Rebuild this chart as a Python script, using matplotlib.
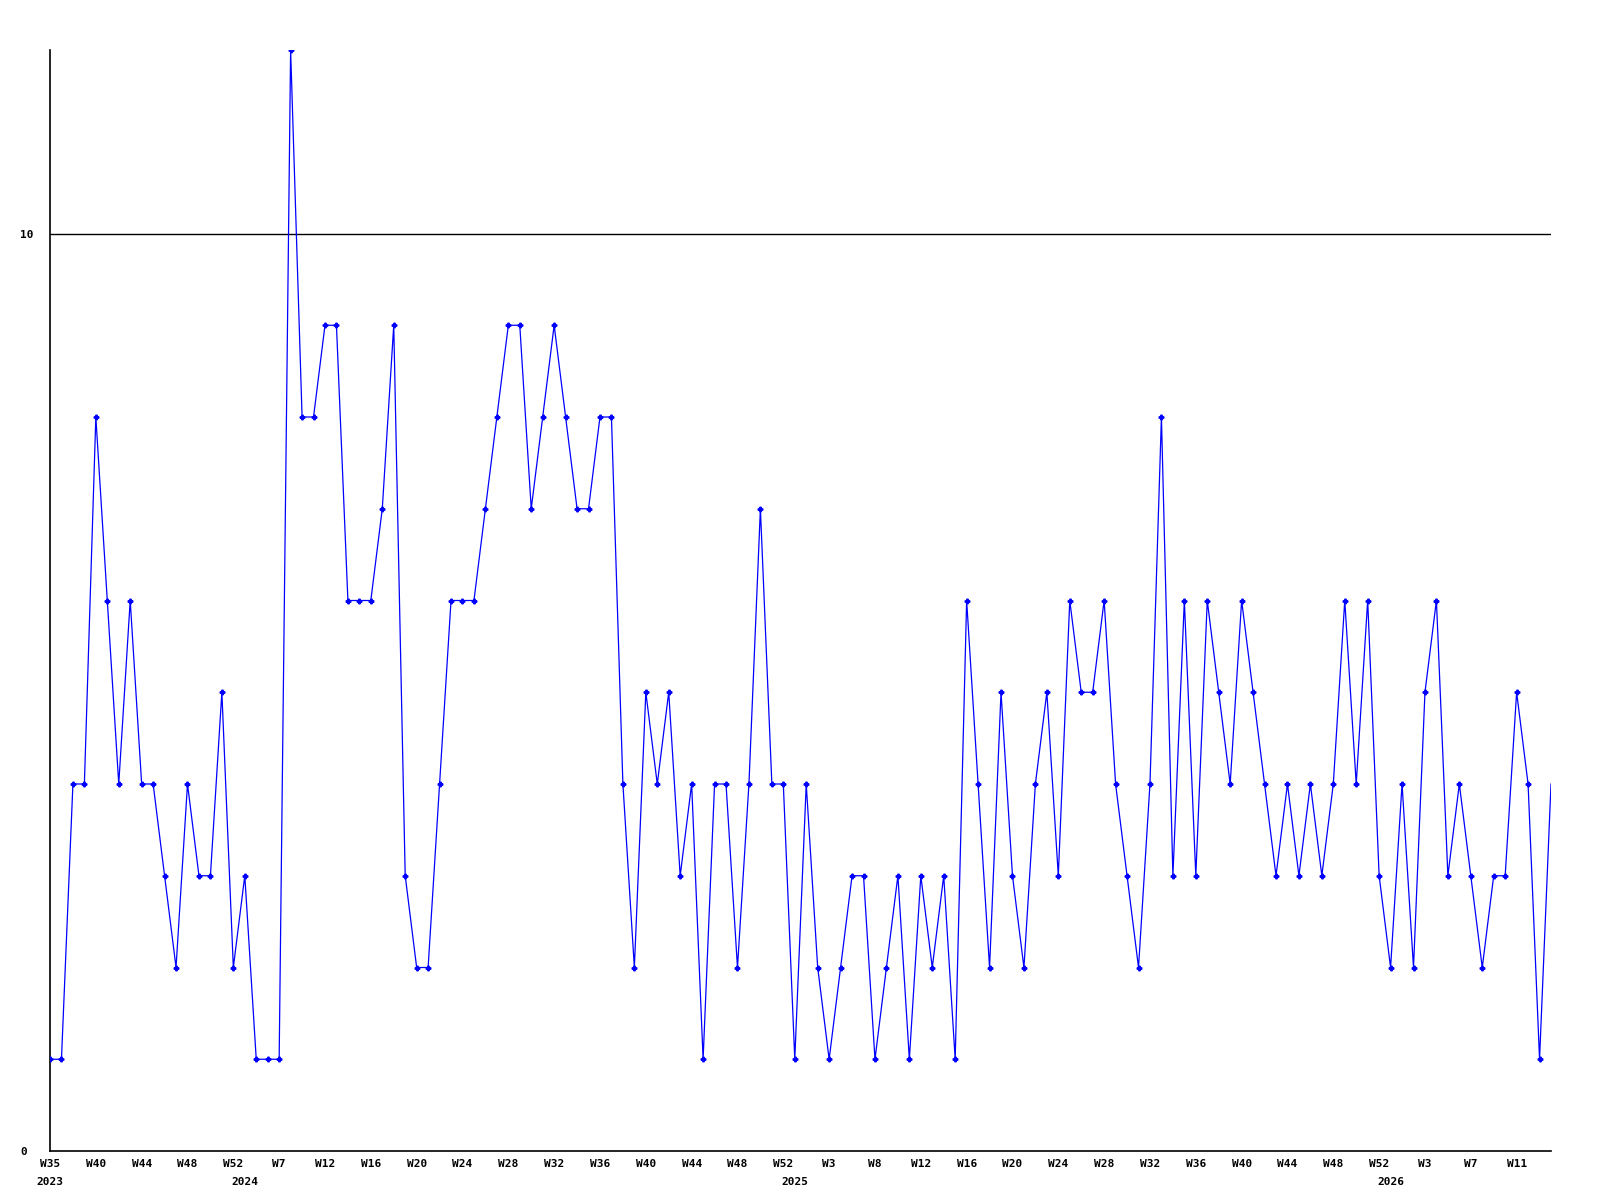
import matplotlib
matplotlib.use("Agg")
import matplotlib.pyplot as plt
import numpy as np

# weekly values, W35 2023 .. current week (last point is partial, drawn without marker)
values = [1, 1, 4, 4, 8, 6, 4, 6, 4, 4,
          3, 2, 4, 3, 3, 5, 2, 3, 1, 1,
          1, 12, 8, 8, 9, 9, 6, 6, 6, 7,
          9, 3, 2, 2, 4, 6, 6, 6, 7, 8,
          9, 9, 7, 8, 9, 8, 7, 7, 8, 8,
          4, 2, 5, 4, 5, 3, 4, 1, 4, 4,
          2, 4, 7, 4, 4, 1, 4, 2, 1, 2,
          3, 3, 1, 2, 3, 1, 3, 2, 3, 1,
          6, 4, 2, 5, 3, 2, 4, 5, 3, 6,
          5, 5, 6, 4, 3, 2, 4, 8, 3, 6,
          3, 6, 5, 4, 6, 5, 4, 3, 4, 3,
          4, 3, 4, 6, 4, 6, 3, 2, 4, 2,
          5, 6, 3, 4, 3, 2, 3, 3, 5, 4,
          1, 4]

week_labels = ["W35", "W40", "W44", "W48", "W52", "W7", "W12", "W16", "W20",
               "W24", "W28", "W32", "W36", "W40", "W44", "W48", "W52", "W3",
               "W8", "W12", "W16", "W20", "W24", "W28", "W32", "W36", "W40",
               "W44", "W48", "W52", "W3", "W7", "W11"]
week_label_pos = list(range(0, 4 * len(week_labels), 4))

years = ["2023", "2024", "2025", "2026"]
year_pos = [0, 17, 65, 117]

threshold = 10

W, H = 1600, 1200
fig = plt.figure(figsize=(16, 12), dpi=100)
x0, x1, y0, y1 = 50, 1551, 1151, 50
ax = fig.add_axes([x0 / W, (H - y0) / H, (x1 - x0) / W, (y0 - y1) / H])

x = np.arange(len(values))
ax.plot(x, values, color="#0000ff", lw=0.9, marker="P", ms=3.3,
        markevery=list(range(len(values) - 1)), zorder=3)
ax.axhline(threshold, color="black", lw=1, zorder=2)

ax.set_xlim(0, len(values) - 1)
ax.set_ylim(0, 12)

for s in ["top", "right"]:
    ax.spines[s].set_visible(False)
for s in ["left", "bottom"]:
    ax.spines[s].set_linewidth(1.2)
    ax.spines[s].set_color("black")

font = dict(family="DejaVu Sans Mono", weight="bold", size=8)

ax.set_xticks(week_label_pos)
ax.set_xticklabels(week_labels, **font)
ax.tick_params(axis="x", length=0, pad=6)

ax.set_yticks([0, 10])
ax.set_yticklabels(["0", "10"], **font)
ax.tick_params(axis="y", length=0, pad=21.5)
for lbl in ax.get_yticklabels():
    lbl.set_horizontalalignment("left")

tr = ax.get_xaxis_transform()
for yr, p in zip(years, year_pos):
    ax.text(p, -31 / (y0 - y1), yr, transform=tr, ha="center", va="center", **font)

fig.savefig("out.png", dpi=100, facecolor="white")
